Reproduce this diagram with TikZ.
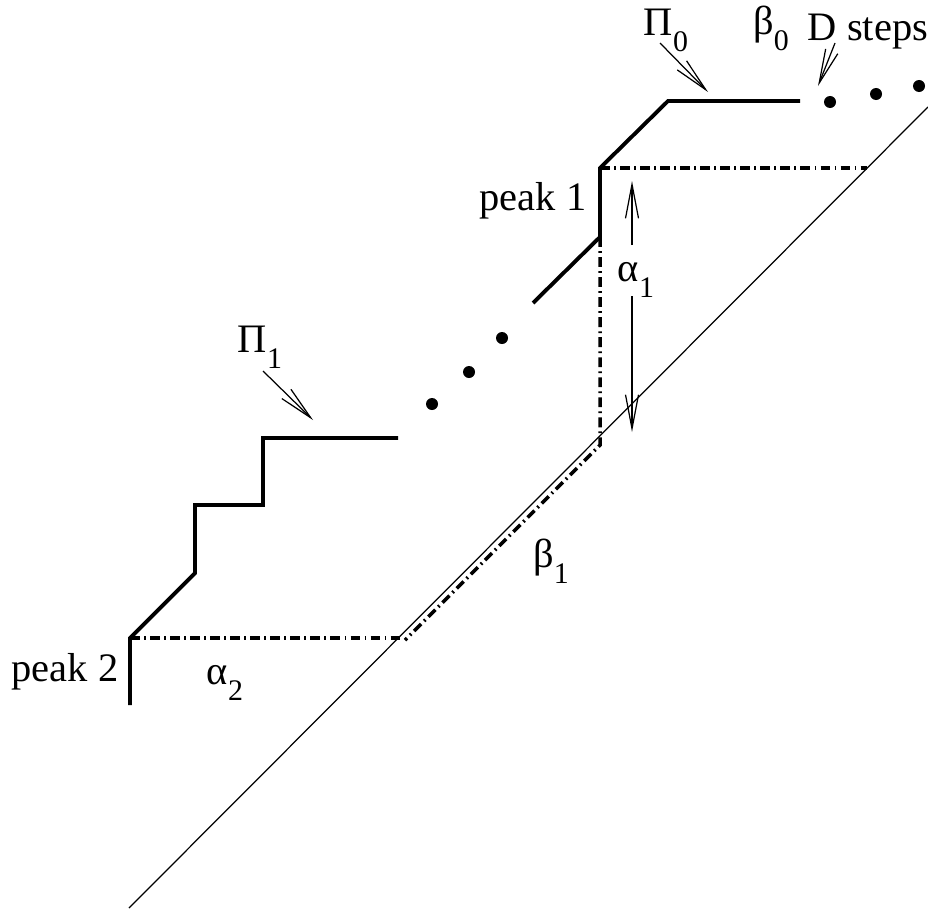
\documentclass[tikz,border=0pt]{standalone}
\usepackage{fontspec}
\setmainfont{Liberation Serif}
\usetikzlibrary{arrows.meta}

\newcommand{\lowsub}[1]{\raisebox{-4.5pt}{\fontsize{8.5}{9}\selectfont #1}}

\begin{document}
\begin{tikzpicture}[
    x=0.01cm,
    y=-0.01cm,
    font=\fontsize{11.5}{13}\selectfont,
    >={Straight Barb[length=3.4mm, width=1.3mm]},
    stair/.style={line width=1.1pt, line join=miter},
    guide/.style={line width=1pt, dash pattern=on 2.8pt off 1.2pt on 0.5pt off 1.2pt},
    diag/.style={line width=0.35pt},
    pointer/.style={->, line width=0.35pt},
    dot/.style={circle, fill, inner sep=0pt, minimum size=0.12cm},
    lbl/.style={inner sep=1pt}
]
\useasboundingbox (0,0) rectangle (928,909);

% corners of the path
\coordinate (p2low) at (130,705);
\coordinate (p2) at (130,638);
\coordinate (s1) at (195,573);
\coordinate (s2) at (195,505);
\coordinate (s3) at (263,505);
\coordinate (s4) at (263,438);
\coordinate (s5) at (398,438);
\coordinate (u1) at (533,303);
\coordinate (u2) at (600,237);
\coordinate (p1) at (600,168);
\coordinate (u3) at (668,101);
\coordinate (u4) at (800,101);
\coordinate (dlow) at (129,908);
\coordinate (dhigh) at (928,107);
\coordinate (g1) at (867,168);
\coordinate (g2) at (600,445);
\coordinate (g3) at (405,640);
\coordinate (g4) at (400,638);

% labels
\node[lbl] (pi0) at (666,30) {Π\lowsub{0}};
\node[lbl] (beta0) at (771,28) {β\lowsub{0}};
\node[lbl] (dsteps) at (868,32) {D steps};
\node[lbl] (pi1) at (260,347) {Π\lowsub{1}};
\node[lbl] (peak1) at (533,201) {peak 1};
\node[lbl] (alpha1) at (636,280) {α\lowsub{1}};
\node[lbl] (peak2) at (65,672) {peak 2};
\node[lbl] (alpha2) at (225,683) {α\lowsub{2}};
\node[lbl] (beta1) at (551,561) {β\lowsub{1}};

% dots
\node[dot] (d1) at (432,404) {};
\node[dot] (d2) at (469,372) {};
\node[dot] (d3) at (502,338) {};
\node[dot] (d4) at (830,102) {};
\node[dot] (d5) at (876,94) {};
\node[dot] (d6) at (919,86) {};

% diagonal
\draw[diag] (dlow) -- (dhigh);

% staircase
\draw[stair] (p2low) -- (p2) -- (s1) -- (s2) -- (s3) -- (s4) -- (s5);
\draw[stair] (u1) -- (u2) -- (p1) -- (u3) -- (u4);

% dash-dot guides
\draw[guide] (p1) -- (g1);
\draw[guide] (u2) -- (g2) -- (g3);
\draw[guide] (p2) -- (g4);

% pointers
\coordinate (a1top) at (632,181);
\coordinate (a1bot) at (632,432);
\draw[pointer] (632,245) -- (a1top);
\draw[pointer] (632,296) -- (a1bot);
\draw[pointer] (660,43) -- (708,92);
\draw[pointer] (835,43) -- (818,86);
\draw[pointer] (263,371) -- (313,420);
\end{tikzpicture}
\end{document}
